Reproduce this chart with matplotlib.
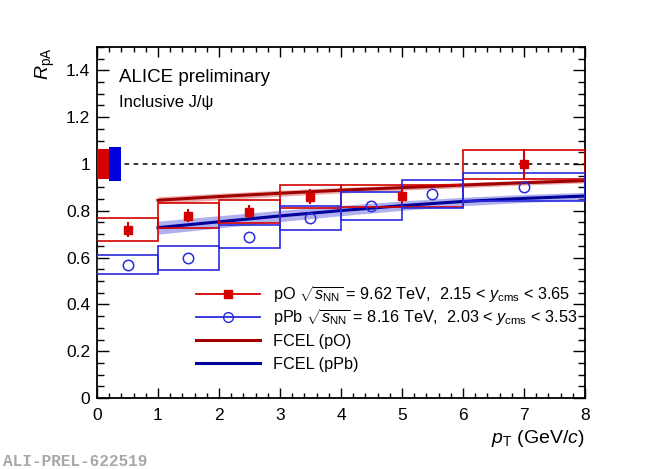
import numpy as np
import matplotlib
matplotlib.use('Agg')
import matplotlib.pyplot as plt
from matplotlib.patches import Rectangle
from matplotlib.lines import Line2D
from matplotlib.ticker import MultipleLocator

plt.rcParams['font.family'] = ['Liberation Sans', 'DejaVu Sans']
plt.rcParams['mathtext.fontset'] = 'custom'
plt.rcParams['mathtext.rm'] = 'Liberation Sans'
plt.rcParams['mathtext.it'] = 'Liberation Sans:italic'
plt.rcParams['mathtext.bf'] = 'Liberation Sans:bold'

# ---- pO data ----
po_lo = [0, 1, 2, 3, 4, 6]
po_hi = [1, 2, 3, 4, 6, 8]
po_x = [0.5, 1.5, 2.5, 3.5, 5.0, 7.0]
po_y = [0.719, 0.779, 0.797, 0.860, 0.864, 0.998]
po_stat = [0.033, 0.028, 0.028, 0.032, 0.030, 0.066]
po_sys = [0.050, 0.054, 0.050, 0.049, 0.048, 0.062]
po_glob = 0.066

# ---- pPb data ----
ppb_lo = [0, 1, 2, 3, 4, 5, 6]
ppb_hi = [1, 2, 3, 4, 5, 6, 8]
ppb_x = [0.5, 1.5, 2.5, 3.5, 4.5, 5.5, 7.0]
ppb_y = [0.569, 0.600, 0.689, 0.770, 0.821, 0.870, 0.900]
ppb_sys = [0.041, 0.051, 0.050, 0.051, 0.060, 0.060, 0.060]
ppb_glob = 0.073

# ---- FCEL model ----
fcel_pt = [1, 2, 3, 4, 5, 6, 7, 8]
fcel_po = [0.845, 0.861, 0.875, 0.888, 0.899, 0.910, 0.920, 0.929]
fcel_po_err = [0.015, 0.014, 0.013, 0.012, 0.011, 0.011, 0.010, 0.010]
fcel_ppb = [0.728, 0.753, 0.778, 0.801, 0.822, 0.840, 0.853, 0.863]
fcel_ppb_err = [0.028, 0.026, 0.024, 0.022, 0.020, 0.018, 0.017, 0.016]

labels = [r'pO $\sqrt{s_{\rm NN}}$ = 9.62 TeV,  2.15 < $y_{\rm cms}$ < 3.65',
          r'pPb $\sqrt{s_{\rm NN}}$ = 8.16 TeV,  2.03 < $y_{\rm cms}$ < 3.53',
          'FCEL (pO)', 'FCEL (pPb)']

RED = '#d40000'
BLUE = '#2a2ae0'
DRED = '#a00000'
DBLUE = '#00009a'

fig = plt.figure(figsize=(6.5, 4.69), dpi=100)
ax = fig.add_axes([97/650, 71/469, 488/650, 351/469])
ax.set_xlim(0, 8)
ax.set_ylim(0, 1.5)

# reference line
ax.axhline(1.0, color='black', ls=(0, (3, 3)), lw=1.1, zorder=1)

# FCEL bands
po_lo_b = np.array(fcel_po) - np.array(fcel_po_err)
po_hi_b = np.array(fcel_po) + np.array(fcel_po_err)
ppb_lo_b = np.array(fcel_ppb) - np.array(fcel_ppb_err)
ppb_hi_b = np.array(fcel_ppb) + np.array(fcel_ppb_err)
ax.fill_between(fcel_pt, po_lo_b, po_hi_b, color='#d86a6a', alpha=0.55, lw=0, zorder=2)
ax.fill_between(fcel_pt, ppb_lo_b, ppb_hi_b, color='#7070e0', alpha=0.55, lw=0, zorder=2)
ax.plot(fcel_pt, fcel_po, color=DRED, lw=2.2, zorder=3)
ax.plot(fcel_pt, fcel_ppb, color=DBLUE, lw=2.2, zorder=3)

# systematic boxes
for lo, hi, y, s in zip(po_lo, po_hi, po_y, po_sys):
    ax.add_patch(Rectangle((lo, y - s), hi - lo, 2 * s, fill=False, ec=RED, lw=1.2, zorder=4))
for lo, hi, y, s in zip(ppb_lo, ppb_hi, ppb_y, ppb_sys):
    ax.add_patch(Rectangle((lo, y - s), hi - lo, 2 * s, fill=False, ec=BLUE, lw=1.2, zorder=4))

# global uncertainty boxes
ax.add_patch(Rectangle((0.0, 1 - po_glob), 0.2, 2 * po_glob, color=RED, lw=0, zorder=5))
ax.add_patch(Rectangle((0.2, 1 - ppb_glob), 0.2, 2 * ppb_glob, color='#0000dd', lw=0, zorder=5))

# data points
ax.errorbar(po_x, po_y, yerr=po_stat, fmt='s', color=RED, ms=6, elinewidth=1.5,
            capsize=0, zorder=6)
ax.plot(ppb_x, ppb_y, 'o', mfc='none', mec=BLUE, ms=7.5, mew=1.1, zorder=6)

# axes style
for sp in ax.spines.values():
    sp.set_linewidth(1.3)
ax.xaxis.set_major_locator(MultipleLocator(1))
ax.xaxis.set_minor_locator(MultipleLocator(0.2))
ax.yaxis.set_major_locator(MultipleLocator(0.2))
ax.yaxis.set_minor_locator(MultipleLocator(0.05))
ax.tick_params(which='both', direction='in', top=True, right=True, width=1.0)
ax.tick_params(axis='x', which='major', length=7, labelsize=12.5, pad=7)
ax.tick_params(axis='x', which='minor', length=3.6)
ax.tick_params(axis='y', which='major', length=8.5, labelsize=12.5, pad=5)
ax.tick_params(axis='y', which='minor', length=5)
ax.set_xticks(range(0, 9))
ax.set_xticklabels([str(i) for i in range(0, 9)])
ax.set_yticks([0, 0.2, 0.4, 0.6, 0.8, 1.0, 1.2, 1.4])
ax.set_yticklabels(['0', '0.2', '0.4', '0.6', '0.8', '1', '1.2', '1.4'])

ax.set_xlabel(r'$p_{\rm T}$ (GeV/$c$)', fontsize=14, loc='right', labelpad=4)
ax.set_ylabel(r'$R_{\rm pA}$', fontsize=14, loc='top', labelpad=6)

ax.text(0.045, 0.913, 'ALICE preliminary', transform=ax.transAxes, fontsize=13.5,
        va='center', ha='left')
ax.text(0.045, 0.843, 'Inclusive J/ψ', transform=ax.transAxes, fontsize=12,
        va='center', ha='left')

# legend (drawn manually so rows are evenly spaced)
handles = [dict(color=RED, marker='s', ms=6, lw=1.3),
           dict(color=BLUE, marker='o', mfc='none', ms=7, lw=1.3),
           dict(color=DRED, lw=2.2),
           dict(color=DBLUE, lw=2.2)]
row_y0 = 0.296
row_dy = 0.0655
for i, (h, lab) in enumerate(zip(handles, labels)):
    yy = row_y0 - i * row_dy
    ax.add_line(Line2D([0.203, 0.334], [yy, yy], transform=ax.transAxes,
                       markevery=[], **{k: v for k, v in h.items() if k not in ('marker', 'ms', 'mfc')}))
    if 'marker' in h:
        ax.add_line(Line2D([0.2685], [yy], transform=ax.transAxes, ls='none',
                           marker=h['marker'], ms=h['ms'], mfc=h.get('mfc', h['color']),
                           mec=h['color'], color=h['color']))
    ax.text(0.361, yy - 0.017, lab, transform=ax.transAxes, fontsize=11.7,
            va='baseline', ha='left')

fig.text(3/650, 1 - 461/469, 'ALI-PREL-622519', family='Liberation Mono',
         weight='bold', color='#a8a8a8', fontsize=11.6, va='center', ha='left')

fig.savefig('out.png', dpi=100)
